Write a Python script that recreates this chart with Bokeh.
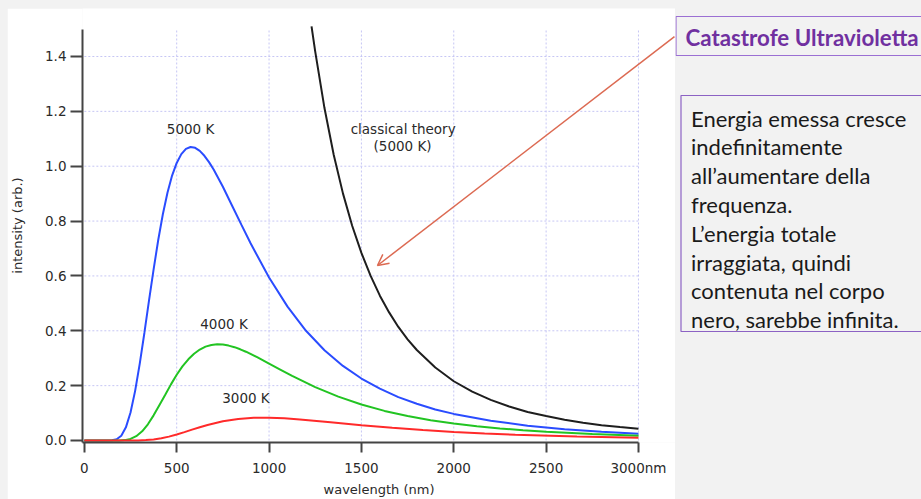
from bokeh.plotting import figure
from bokeh.models import Range1d, FixedTicker, NumeralTickFormatter, Label, Arrow, OpenHead
from bokeh.layouts import row
from bokeh.embed import file_html
from bokeh.resources import INLINE

# ---------------- data ----------------
wl_5000 = [0, 100, 150, 175, 200, 225, 250, 275, 300, 325, 350, 375, 400, 425, 450, 475,
           500, 525, 550, 575, 600, 625, 650, 675, 700, 750, 800, 850, 900, 1000, 1100,
           1200, 1300, 1400, 1500, 1600, 1700, 1800, 1900, 2000, 2200, 2400, 2600, 2800, 3000]
I_5000 = [0, 0, 0.0006, 0.0044, 0.0176, 0.048, 0.102, 0.181, 0.280, 0.392, 0.510, 0.624,
          0.731, 0.825, 0.903, 0.966, 1.012, 1.044, 1.063, 1.070, 1.067, 1.056, 1.038,
          1.015, 0.988, 0.925, 0.856, 0.787, 0.719, 0.594, 0.488, 0.400, 0.329, 0.272,
          0.226, 0.189, 0.158, 0.134, 0.113, 0.097, 0.072, 0.054, 0.041, 0.032, 0.025]

wl_4000 = [0, 150, 188, 219, 250, 281, 313, 344, 375, 406, 438, 469, 500, 531, 563, 594,
           625, 656, 688, 719, 750, 781, 813, 844, 875, 938, 1000, 1063, 1125, 1250, 1375,
           1500, 1625, 1750, 1875, 2000, 2125, 2250, 2375, 2500, 2750, 3000]
I_4000 = [0, 0, 0.0002, 0.0014, 0.0058, 0.0158, 0.0335, 0.0592, 0.0917, 0.1286, 0.1670,
          0.2046, 0.2395, 0.2702, 0.2959, 0.3164, 0.3316, 0.3422, 0.3483, 0.3506, 0.3496,
          0.3460, 0.3402, 0.3325, 0.3237, 0.3030, 0.2806, 0.2578, 0.2355, 0.1947, 0.1598,
          0.1311, 0.1079, 0.0891, 0.0740, 0.0618, 0.0518, 0.0438, 0.0372, 0.0317, 0.0235,
          0.0177]

wl_3000 = [0, 200, 250, 292, 333, 375, 417, 458, 500, 542, 583, 625, 667, 750, 833, 917,
           958, 1000, 1083, 1167, 1333, 1500, 1667, 1833, 2000, 2167, 2333, 2667, 3000]
I_3000 = [0, 0, 0.0001, 0.0003, 0.0014, 0.0038, 0.0080, 0.0141, 0.0218, 0.0305, 0.0396,
          0.0485, 0.0568, 0.0702, 0.0787, 0.0827, 0.0832, 0.0830, 0.0807, 0.0768, 0.0666,
          0.0559, 0.0462, 0.0379, 0.0311, 0.0256, 0.0211, 0.0147, 0.0104]

wl_classical = [1230, 1250, 1300, 1350, 1400, 1450, 1500, 1550, 1600, 1650, 1700, 1750,
                1800, 1900, 2000, 2100, 2200, 2300, 2400, 2500, 2600, 2700, 2800, 2900, 3000]
I_classical = [1.51, 1.418, 1.212, 1.042, 0.901, 0.783, 0.684, 0.600, 0.528, 0.467, 0.414,
               0.369, 0.330, 0.266, 0.216, 0.178, 0.148, 0.124, 0.104, 0.089, 0.076, 0.065,
               0.056, 0.049, 0.043]

x_ticks = [0, 500, 1000, 1500, 2000, 2500, 3000]
y_ticks = [0.0, 0.2, 0.4, 0.6, 0.8, 1.0, 1.2, 1.4]
curve_labels = ["5000 K", "4000 K", "3000 K"]
classical_label = ["classical theory", "(5000 K)"]
title_text = "Catastrofe Ultravioletta"
box_lines = ["Energia emessa cresce", "indefinitamente", "all\u2019aumentare della",
             "frequenza.", "L\u2019energia totale", "irraggiata, quindi",
             "contenuta nel corpo", "nero, sarebbe infinita."]

# ---------------- chart ----------------
FONT = "DejaVu Sans"
TXT = "#2a2a2a"
GRID = "#c6c6f4"

chart = figure(width=668, height=491,
               x_range=Range1d(-10, 3200.5), y_range=Range1d(-0.0073, 1.575),
               output_backend="svg", toolbar_location=None,
               min_border_left=73, min_border_right=0, min_border_top=0,
               min_border_bottom=57, background_fill_color="white",
               border_fill_color="white", outline_line_color=None)
chart.margin = (8, 0, 0, 7)
chart.grid.visible = False

# dotted grid
chart.segment(x0=x_ticks[1:], y0=0, x1=x_ticks[1:], y1=1.5,
              line_color=GRID, line_dash="2 2", line_width=1)
chart.segment(x0=0, y0=y_ticks[1:], x1=3000, y1=y_ticks[1:],
              line_color=GRID, line_dash="2 2", line_width=1)

chart.line(wl_classical, I_classical, line_color="#1e1e1e", line_width=2)
chart.line(wl_5000, I_5000, line_color="#2a4cff", line_width=2)
chart.line(wl_4000, I_4000, line_color="#22c422", line_width=2)
chart.line(wl_3000, I_3000, line_color="#ff2a2a", line_width=2)

xa = chart.xaxis[0]
xa.ticker = FixedTicker(ticks=x_ticks)
xa.major_label_overrides = {3000: "3000nm"}
xa.bounds = (-10, 3000)
ya = chart.yaxis[0]
ya.ticker = FixedTicker(ticks=y_ticks)
ya.formatter = NumeralTickFormatter(format="0.0")
ya.bounds = (-0.0073, 1.5)
for ax in (xa, ya):
    ax.axis_line_color = "#444444"
    ax.axis_line_width = 2
    ax.major_tick_line_color = "#444444"
    ax.major_tick_line_width = 2
    ax.major_tick_in = 0
    ax.minor_tick_line_color = None
    ax.major_label_text_font = FONT
    ax.major_label_text_font_size = "13.5px"
    ax.major_label_text_color = TXT
    ax.axis_label_text_font = FONT
    ax.axis_label_text_font_size = "13px"
    ax.axis_label_text_font_style = "normal"
    ax.axis_label_text_color = TXT
xa.major_tick_out = 10
xa.major_label_standoff = 7
xa.axis_label = "wavelength (nm)"
xa.axis_label_standoff = 3
ya.major_tick_out = 12
ya.major_label_standoff = 4
ya.axis_label = "intensity (arb.)"
ya.axis_label_standoff = 17

for txt, x, y in [(curve_labels[0], 575, 1.135), (curve_labels[1], 756, 0.425),
                  (curve_labels[2], 875, 0.156), (classical_label[0], 1726, 1.135),
                  (classical_label[1], 1723, 1.073)]:
    chart.add_layout(Label(x=x, y=y, text=txt, text_font=FONT, text_font_size="13.5px",
                           text_color=TXT, text_align="center", text_baseline="middle"))

ARROW = "#dc6a52"
chart.add_layout(Arrow(end=OpenHead(size=11, line_color=ARROW, line_width=1.5),
                       x_start=3195, y_start=1.4728, x_end=1587, y_end=0.638,
                       line_color=ARROW, line_width=1.5))

# ---------------- right panel (coordinates: pixels, y measured from the bottom) ----------------
H = 499
panel = figure(frame_width=246, frame_height=H, x_range=Range1d(0, 246),
               y_range=Range1d(0, H), output_backend="svg", toolbar_location=None,
               x_axis_type=None, y_axis_type=None, min_border=0,
               background_fill_color="#f2f2f2", border_fill_color="#f2f2f2",
               outline_line_color=None)
panel.grid.visible = False
panel.quad(left=0.5, right=260, top=H - 16, bottom=H - 55, fill_color="#f2f2f2",
           line_color="#9b6fd3", line_width=1.2)
panel.quad(left=5.5, right=260, top=H - 95, bottom=H - 331, fill_color=None,
           line_color="#8c62c4", line_width=1.2)
panel.add_layout(Label(x=10, y=H - 36.5, text=title_text, text_font="Lato",
                       text_font_style="bold", text_font_size="22.3px",
                       text_color="#7030a0", text_baseline="middle"))
for i, ln in enumerate(box_lines):
    panel.add_layout(Label(x=15.5, y=H - (117.5 + 28.8 * i), text=ln, text_font="Lato",
                           text_font_size="22px", text_color="#1a1a1a",
                           text_baseline="middle"))

page = row(chart, panel, styles={"background-color": "#f2f2f2"})
open("out.html", "w").write(file_html(page, INLINE))
